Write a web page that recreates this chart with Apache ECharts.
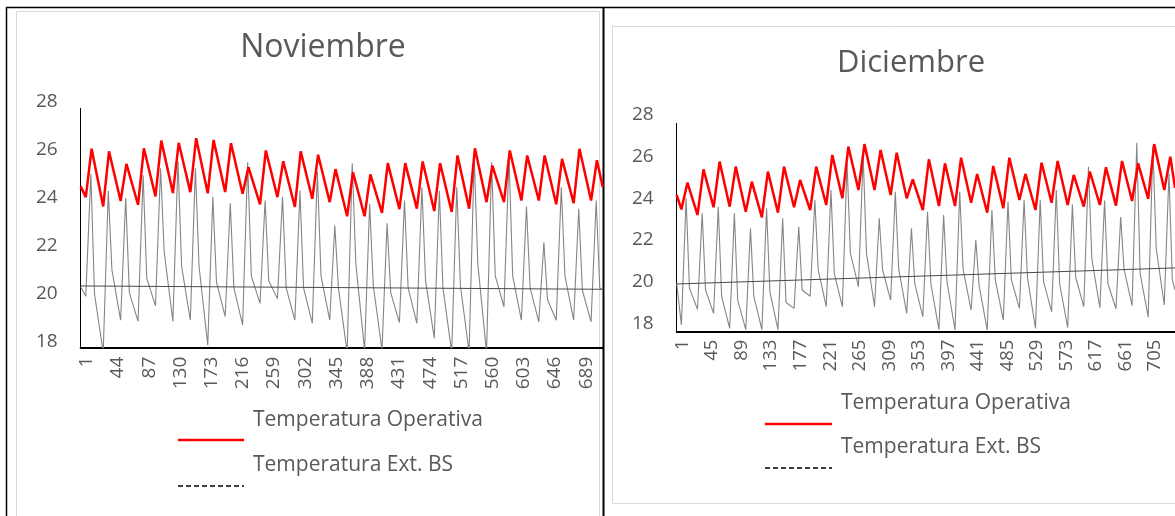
<!DOCTYPE html>
<html><head><meta charset="utf-8">
<script src="https://cdn.jsdelivr.net/npm/echarts@6/dist/echarts.min.js"></script>
<style>html,body{margin:0;padding:0;background:#fff;overflow:hidden;width:1175px;height:516px}#c{width:1175px;height:516px}</style>
</head><body><div id="c"></div><script>
// ---------- DATA ----------
const novTitle = 'Noviembre';
const decTitle = 'Diciembre';
const seriesNames = ['Temperatura Operativa', 'Temperatura Ext. BS'];
const novHourCount = 720;
const decHourCount = 744;
const yTicks = [18, 20, 22, 24, 26, 28];

// Temperatura Operativa – November: value at hour 1, daily trough, daily peak, value at last hour
const novOpStart = 24.74;
const novOpTrough = [24.29, 23.9, 24.13, 23.97, 24.32, 24.46, 24.5, 24.45, 24.5, 24.43, 23.99, 24.29, 23.88, 24.22, 24.08, 23.49, 23.49, 23.63, 23.79, 23.81, 23.71, 23.67, 23.81, 24.08, 24.08, 24.15, 24.15, 23.99, 24.04, 24.15];
const novOpPeak = [26.31, 26.2, 25.68, 26.33, 26.65, 26.56, 26.75, 26.68, 26.54, 25.54, 26.24, 25.79, 26.2, 26.06, 25.46, 25.33, 25.24, 25.71, 25.71, 25.78, 25.71, 26.03, 26.33, 25.61, 26.24, 26.03, 26.03, 25.89, 26.31, 25.83];
const novOpEnd = 24.71;

// Temperatura Ext. BS – November: hour 1, daily minimum, daily maximum, evening value, last hour
const novExtStart = 20.55;
const novExtMin = [20.15, 17.8, 19.15, 19.1, 19.75, 19.1, 19.15, 18.1, 19.3, 18.95, 19.85, 20.05, 19.15, 19.02, 19.15, 17.8, 17.9, 17.9, 19.05, 19.02, 18.4, 17.8, 17.8, 17.8, 19.71, 19.15, 19.08, 19.15, 19.15, 19.08];
const novExtMax = [25.25, 24.55, 24.25, 25.2, 25.5, 25.8, 25.5, 24.3, 24.03, 25.75, 24.15, 24.3, 24.55, 25.35, 23.1, 25.7, 24.0, 23.2, 24.15, 24.7, 24.55, 24.7, 25.95, 25.75, 25.95, 23.9, 22.4, 24.7, 23.8, 24.15];
const novExtEve = [20.25, 21.25, 20.3, 20.9, 22.0, 21.4, 21.4, 20.75, 20.5, 21.0, 20.8, 20.5, 20.5, 21.0, 20.5, 21.5, 20.6, 20.3, 20.5, 20.8, 20.5, 20.6, 21.5, 21.0, 21.0, 20.5, 20.0, 21.0, 20.4, 20.5];
const novExtEnd = 20.41;
// linear trend of the outdoor temperature (start, end)
const novTrend = [20.58, 20.44];

// Temperatura Operativa – December
const decOpStart = 24.56;
const decOpTrough = [23.87, 23.6, 23.97, 24.0, 23.76, 23.49, 23.71, 23.97, 23.84, 24.08, 24.4, 24.8, 24.8, 24.56, 24.4, 23.84, 24.03, 24.03, 24.19, 23.71, 23.92, 24.32, 23.84, 24.19, 24.08, 24.0, 24.08, 24.05, 24.27, 24.38, 24.8];
const decOpPeak = [25.15, 25.79, 26.16, 25.92, 25.2, 25.68, 25.92, 25.28, 25.92, 26.48, 26.88, 27.0, 26.72, 26.59, 25.31, 26.27, 26.08, 26.35, 25.57, 25.95, 26.35, 25.57, 26.11, 26.19, 25.52, 25.68, 25.89, 26.19, 26.08, 27.0, 26.4];
const decOpEnd = 24.9;

// Temperatura Ext. BS – December
const decExtStart = 20.32;
const decExtMin = [18.32, 19.07, 18.88, 18.16, 18.1, 18.1, 18.1, 19.12, 19.7, 19.2, 19.2, 20.16, 19.2, 19.52, 18.88, 18.72, 18.1, 18.08, 19.04, 18.08, 18.56, 19.12, 18.16, 18.96, 18.2, 19.2, 19.15, 19.1, 19.25, 18.7, 19.28];
const decExtMax = [24.4, 23.68, 24.0, 23.68, 22.96, 23.92, 23.44, 23.04, 24.32, 24.8, 26.08, 26.48, 23.44, 24.72, 22.96, 23.76, 23.6, 24.72, 22.4, 23.84, 24.24, 24.32, 24.32, 24.8, 24.1, 25.92, 24.3, 23.5, 27.07, 26.9, 25.6];
const decExtEve = [20.1, 20.0, 19.7, 19.5, 19.7, 19.9, 19.4, 20.0, 20.96, 20.8, 21.76, 21.76, 20.96, 21.0, 20.3, 20.3, 20.4, 21.0, 20.2, 20.5, 20.5, 20.6, 20.4, 20.3, 20.6, 21.5, 20.3, 21.0, 20.8, 22.0, 20.5];
const decExtEnd = 20.0;
const decTrend = [20.29, 21.06];

// ---------- BUILD ----------
const FONT = "'Open Sans', 'DejaVu Sans', sans-serif";
const TXT = '#595959';
function cats(n) { const a = []; for (let i = 1; i <= n; i++) a.push(String(i)); return a; }
function opPoints(start, tr, pk, end, n, trH, pkH) {
  const p = [[0, start]];
  for (let d = 0; d < pk.length; d++) {
    if (24 * d + trH < n) p.push([24 * d + trH, tr[d]]);
    if (24 * d + pkH < n) p.push([24 * d + pkH, pk[d]]);
  }
  p.push([n - 1, end]);
  return p;
}
function extPoints(start, mn, mx, ev, end, n) {
  const p = [[0, start]];
  for (let d = 0; d < mn.length; d++) {
    [[7, mn[d]], [14, mx[d]], [19, ev[d]]].forEach(([h, v]) => { if (24 * d + h < n) p.push([24 * d + h, v]); });
  }
  p.push([n - 1, end]);
  return p;
}

const chart = echarts.init(document.getElementById('c'), null, { renderer: 'canvas' });
function xAx(idx, n, interval, margin, fs) {
  return { gridIndex: idx, type: 'category', data: cats(n), boundaryGap: false,
    axisLine: { lineStyle: { color: '#000', width: 2 } }, axisTick: { show: false },
    axisLabel: { interval: interval, rotate: 90, margin: margin, color: TXT, fontSize: fs, fontFamily: FONT,
      verticalAlign: 'top', lineHeight: 12 },
    splitLine: { show: false } };
}
function yAx(idx, lh) {
  return { gridIndex: idx, type: 'value', min: yTicks[0], max: yTicks[yTicks.length - 1], interval: 2,
    axisLine: { show: true, lineStyle: { color: '#000', width: 1 } }, axisTick: { show: false },
    axisLabel: { margin: 23, color: TXT, fontSize: 19, fontFamily: FONT, verticalAlign: 'bottom', lineHeight: lh },
    splitLine: { show: false } };
}
function lineSeries(name, ax, data, color, width, z) {
  return { name: name, type: 'line', xAxisIndex: ax, yAxisIndex: ax, data: data, symbol: 'none',
    lineStyle: { color: color, width: width }, itemStyle: { color: color }, z: z, clip: true, animation: false };
}
function txt(x, y, s, size) {
  return { type: 'text', x: x, y: y, silent: true,
    style: { text: s, fill: TXT, fontSize: size, fontFamily: FONT, align: 'left', verticalAlign: 'middle' } };
}
function ctxt(x, y, s, size) {
  return { type: 'text', x: x, y: y, silent: true,
    style: { text: s, fill: TXT, fontSize: size, fontFamily: FONT, align: 'center', verticalAlign: 'middle' } };
}
function ln(x1, y1, x2, y2, color, w, dash) {
  const st = { stroke: color, lineWidth: w };
  if (dash) st.lineDash = dash;
  return { type: 'line', silent: true, shape: { x1: x1, y1: y1, x2: x2, y2: y2 }, style: st };
}

chart.setOption({
  animation: false,
  backgroundColor: '#ffffff',
  grid: [
    { left: 80.7, top: 108.3, width: 522, height: 239.4 },
    { left: 676.7, top: 123.3, width: 506.7, height: 208.4 }
  ],
  xAxis: [xAx(0, novHourCount, 42, 9, 19), xAx(1, decHourCount, 43, 8, 18.5)],
  yAxis: [yAx(0, 13), yAx(1, 17)],
  series: [
    lineSeries(seriesNames[0], 0, opPoints(novOpStart, novOpTrough, novOpPeak, novOpEnd, novHourCount, 7, 15), '#ff0000', 2.5, 3),
    lineSeries(seriesNames[1], 0, extPoints(novExtStart, novExtMin, novExtMax, novExtEve, novExtEnd, novHourCount), '#858585', 1.1, 2),
    lineSeries('Tendencia', 0, [[0, novTrend[0]], [novHourCount - 1, novTrend[1]]], '#4a4a4a', 1, 4),
    lineSeries(seriesNames[0], 1, opPoints(decOpStart, decOpTrough, decOpPeak, decOpEnd, decHourCount, 7, 16), '#ff0000', 2.5, 3),
    lineSeries(seriesNames[1], 1, extPoints(decExtStart, decExtMin, decExtMax, decExtEve, decExtEnd, decHourCount), '#858585', 1.1, 2),
    lineSeries('Tendencia', 1, [[0, decTrend[0]], [decHourCount - 1, decTrend[1]]], '#4a4a4a', 1, 4)
  ],
  graphic: [
    // frames
    ln(6, 7.5, 1175, 7.5, '#000', 1.5),
    ln(6.5, 7, 6.5, 516, '#000', 1.5),
    ln(603.5, 7, 603.5, 516, '#000', 2),
    { type: 'rect', silent: true, shape: { x: 16.5, y: 11.5, width: 583, height: 520 }, style: { fill: 'none', stroke: '#d9d9d9', lineWidth: 1 } },
    { type: 'rect', silent: true, shape: { x: 612.5, y: 26.5, width: 620, height: 477 }, style: { fill: 'none', stroke: '#d9d9d9', lineWidth: 1 } },
    // titles
    ctxt(323, 48, novTitle, 32),
    ctxt(911, 63, decTitle, 31),
    // legend November
    txt(253, 420, seriesNames[0], 21),
    ln(178, 440, 244, 440, '#ff0000', 2.5),
    txt(253, 465, seriesNames[1], 21),
    ln(178, 486, 244, 486, '#000', 1.5, [5, 3]),
    // legend December
    txt(841, 403, seriesNames[0], 21),
    ln(765, 424, 832, 424, '#ff0000', 2.5),
    txt(841, 447, seriesNames[1], 21),
    ln(765, 468, 832, 468, '#000', 1.5, [5, 3])
  ]
});
</script></body></html>
